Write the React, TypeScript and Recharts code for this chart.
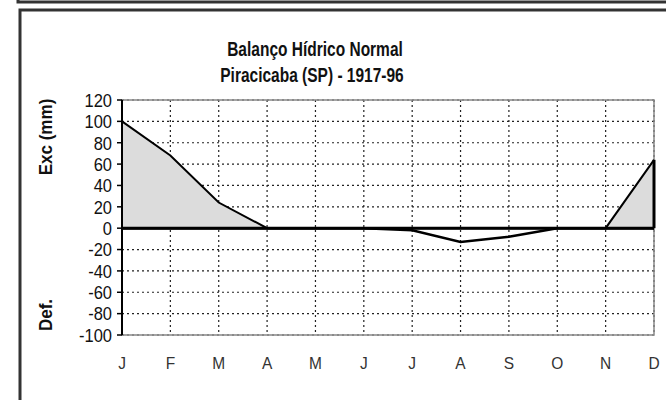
import React from "react";
import {
  ComposedChart,
  Area,
  Line,
  XAxis,
  YAxis,
  CartesianGrid,
  ReferenceLine,
  ReferenceArea,
} from "recharts";

// meses (jan..dez)
const meses = ["J", "F", "M", "A", "M", "J", "J", "A", "S", "O", "N", "D"];
// excedente hídrico (mm)
const excedente = [100, 68, 24, 0, 0, 0, 0, 0, 0, 0, 0, 64];
// deficiência hídrica (mm, negativo)
const deficiencia = [0, 0, 0, 0, 0, 0, -2, -13, -8, 0, 0, 0];
const yTicks = [-100, -80, -60, -40, -20, 0, 20, 40, 60, 80, 100, 120];

const data = meses.map((m, i) => ({
  i,
  mes: m,
  exc: excedente[i],
  def: deficiencia[i],
}));

const FONT = "'Liberation Sans', Arial, sans-serif";
const last = meses.length - 1;

// texto um pouco "esticado" na vertical, como no gráfico escaneado
const YTick = (props: any) => {
  const { x, y, payload } = props;
  return (
    <text
      transform={`translate(${x} ${y}) scale(1 1.15)`}
      textAnchor="end"
      dy="0.36em"
      fontFamily={FONT}
      fontSize={16.5}
      fill="#111"
    >
      {payload.value}
    </text>
  );
};

const XTick = (props: any) => {
  const { x, y, payload } = props;
  return (
    <text
      transform={`translate(${x} ${y}) scale(1 1.1)`}
      textAnchor="middle"
      dy="0.71em"
      fontFamily={FONT}
      fontSize={15.5}
      fill="#333"
    >
      {meses[payload.value]}
    </text>
  );
};

export default function App() {
  return (
    <div
      style={{
        position: "absolute",
        left: 0,
        top: 0,
        width: 666,
        height: 400,
        background: "#fff",
        overflow: "hidden",
      }}
    >
      <ComposedChart
        width={666}
        height={400}
        data={data}
        margin={{ top: 100, right: 12, bottom: 35, left: 62 }}
      >
        <CartesianGrid stroke="#222" strokeWidth={1.2} strokeDasharray="2 3" />
        <ReferenceArea
          x1={0}
          x2={last}
          y1={-100}
          y2={120}
          fill="none"
          stroke="#888"
          strokeWidth={1.5}
          fillOpacity={0}
        />
        <XAxis
          dataKey="i"
          type="number"
          domain={[0, last]}
          ticks={data.map((d) => d.i)}
          axisLine={false}
          tickLine={false}
          height={30}
          tickMargin={16}
          interval={0}
          tick={<XTick />}
        />
        <YAxis
          domain={[-100, 120]}
          ticks={yTicks}
          interval={0}
          width={60}
          axisLine={{ stroke: "#000", strokeWidth: 2 }}
          tickLine={{ stroke: "#000", strokeWidth: 1.5 }}
          tickSize={5}
          tickMargin={5}
          tick={<YTick />}
        />
        <Area
          dataKey="exc"
          type="linear"
          stroke="#000"
          strokeWidth={2}
          fill="#dcdcdc"
          fillOpacity={1}
          dot={false}
          activeDot={false}
          isAnimationActive={false}
        />
        <Line
          dataKey="def"
          type="linear"
          stroke="#000"
          strokeWidth={2.5}
          dot={false}
          activeDot={false}
          isAnimationActive={false}
        />
        <ReferenceLine y={0} stroke="#000" strokeWidth={3} />
        <ReferenceLine
          segment={[
            { x: last, y: 0 },
            { x: last, y: excedente[last] },
          ]}
          stroke="#000"
          strokeWidth={3}
        />
      </ComposedChart>
      <svg
        width={666}
        height={400}
        style={{ position: "absolute", left: 0, top: 0, pointerEvents: "none" }}
      >
        <path d="M18 0 L18 2 L666 2" stroke="#333" strokeWidth={3} fill="none" />
        <rect x={20} y={10} width={700} height={500} stroke="#333" strokeWidth={3} fill="none" />
        <text
          transform="translate(315 56) scale(1 1.3)"
          textAnchor="middle"
          fontFamily={FONT}
          fontWeight="bold"
          fontSize={15.5}
          fill="#111"
        >
          Balanço Hídrico Normal
        </text>
        <text
          transform="translate(312 82) scale(1 1.3)"
          textAnchor="middle"
          fontFamily={FONT}
          fontWeight="bold"
          fontSize={15.5}
          fill="#111"
        >
          Piracicaba (SP) - 1917-96
        </text>
        <text
          transform="translate(52 137) rotate(-90) scale(1.1 1.15)"
          textAnchor="middle"
          fontFamily={FONT}
          fontWeight="bold"
          fontSize={15.5}
          fill="#111"
        >
          Exc (mm)
        </text>
        <text
          transform="translate(52 315) rotate(-90) scale(1.1 1.15)"
          textAnchor="middle"
          fontFamily={FONT}
          fontWeight="bold"
          fontSize={15.5}
          fill="#111"
        >
          Def.
        </text>
      </svg>
    </div>
  );
}
